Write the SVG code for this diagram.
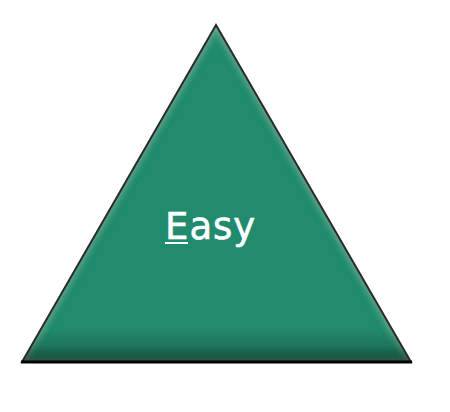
<svg xmlns="http://www.w3.org/2000/svg" width="450" height="412" viewBox="0 0 450 412">
  <defs>
    <linearGradient id="bottomShade" x1="0" y1="25" x2="0" y2="362" gradientUnits="userSpaceOnUse">
      <stop offset="0" stop-color="#000" stop-opacity="0"/>
      <stop offset="0.9" stop-color="#000" stop-opacity="0"/>
      <stop offset="0.95" stop-color="#000" stop-opacity="0.15"/>
      <stop offset="1" stop-color="#000" stop-opacity="0.5"/>
    </linearGradient>
    <filter id="bevel" x="-5%" y="-5%" width="110%" height="110%">
      <feGaussianBlur in="SourceAlpha" stdDeviation="4" result="blur"/>
      <feComposite in="SourceAlpha" in2="blur" operator="arithmetic" k2="1" k3="-1" result="edge"/>
      <feFlood flood-color="#9fd9c4" flood-opacity="0.55"/>
      <feComposite in2="edge" operator="in" result="hl"/>
      <feMerge><feMergeNode in="SourceGraphic"/><feMergeNode in="hl"/></feMerge>
    </filter>
    <style>
      .label { font-family: "DejaVu Sans", "Open Sans", sans-serif; font-size: 37px; letter-spacing: 1px; fill: #ffffff; stroke: #ffffff; stroke-width: 0.6px; }
    </style>
  </defs>
  <g id="triangle">
    <polygon points="216,25 411,362 22,362" fill="#218B6E" filter="url(#bevel)"/>
    <polygon points="216,25 411,362 22,362" fill="url(#bottomShade)"/>
    <polygon points="216,25 411,362 22,362" fill="none" stroke="#2a2a2a" stroke-width="2" stroke-linejoin="miter"/>
    <line x1="21" y1="362" x2="412" y2="362" stroke="#000" stroke-width="3"/>
    <text class="label" x="165" y="239">Easy</text>
    <line x1="165" y1="243" x2="188" y2="243" stroke="#fff" stroke-width="2"/>
  </g>
  <g id="connectors"/>
</svg>
